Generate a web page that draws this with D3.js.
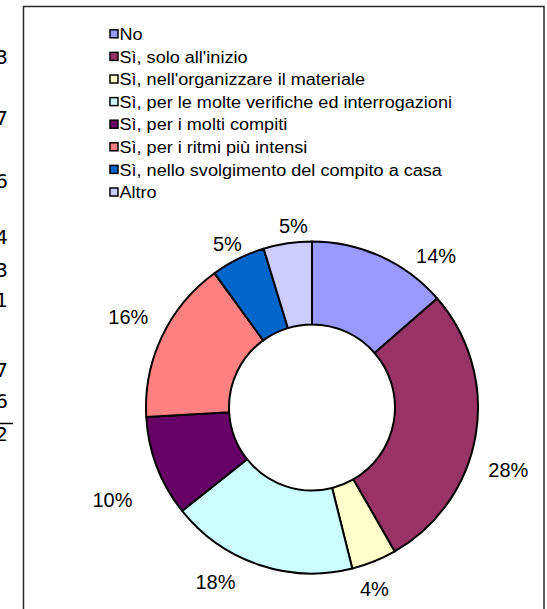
<!DOCTYPE html>
<html>
<head>
<meta charset="utf-8">
<script src="https://cdn.jsdelivr.net/npm/d3@7"></script>
<style>
  html, body { margin: 0; padding: 0; background: #fff; }
  svg { display: block; }
</style>
</head>
<body>
<svg id="chart" width="547" height="609"></svg>
<script>
// ---- data ----
const categories = [
  "No",
  "Sì, solo all'inizio",
  "Sì, nell'organizzare il materiale",
  "Sì, per le molte verifiche ed interrogazioni",
  "Sì, per i molti compiti",
  "Sì, per i ritmi più intensi",
  "Sì, nello svolgimento del compito a casa",
  "Altro"
];
const values = [13.6, 28.1, 4.4, 18.2, 9.8, 15.9, 5.3, 4.7];
const colors = ["#9999FF", "#993366", "#FFFFCC", "#CCFFFF", "#660066", "#FF8080", "#0066CC", "#CCCCFF"];
// cut-off numbers of a neighbouring sheet table visible at the left edge
const sideDigits = ["3", "7", "6", "4", "3", "1", "7", "6", "2"];

// ---- layout (label placement like Excel) ----
const labelShiftDeg = [14.8, 8.1, 3.0, 10.3, -4.0, 1.0, -0.9, 2.6];
const labelDist = [196, 206, 192, 199, 220, 205, 184, 183];
const sideDigitY = [57, 118, 181, 237, 270, 300, 370, 401, 434];

const svg = d3.select("#chart");

// side digits
svg.append("g").selectAll("text").data(sideDigits).join("text")
  .attr("x", 8)
  .attr("y", (d, i) => sideDigitY[i] + 7.3)
  .attr("text-anchor", "end")
  .attr("font-family", "Tahoma, 'DejaVu Sans', sans-serif")
  .attr("font-size", 20)
  .attr("fill", "#000")
  .text(d => d);
svg.append("line")
  .attr("x1", 0).attr("x2", 13)
  .attr("y1", 423.5).attr("y2", 423.5)
  .attr("stroke", "#000").attr("stroke-width", 1.5);

// chart frame
svg.append("rect")
  .attr("x", 23.5).attr("y", 6.5)
  .attr("width", 520.5).attr("height", 640)
  .attr("fill", "#fff")
  .attr("stroke", "#2a2a2a").attr("stroke-width", 1.5);

// legend
const legend = svg.append("g").attr("transform", "translate(109.5,0)");
const rowY = d3.scaleLinear().domain([0, 7]).range([34.3, 192.5]);
const items = legend.selectAll("g").data(categories).join("g")
  .attr("transform", (d, i) => `translate(0,${rowY(i)})`);
items.append("rect")
  .attr("x", 0.5).attr("y", -4.5)
  .attr("width", 8).attr("height", 8)
  .attr("fill", (d, i) => colors[i])
  .attr("stroke", "#000").attr("stroke-width", 1.5);
items.append("text")
  .attr("transform", "translate(10,5.6) scale(1.13,1)")
  .attr("font-family", "Arial, 'Liberation Sans', sans-serif")
  .attr("font-size", 16)
  .attr("fill", "#000")
  .text(d => d);

// doughnut
const cx = 312, cy = 407.5, R = 166, r = 83;
const pie = d3.pie().sort(null).value(d => d)(values);
const arc = d3.arc().innerRadius(r).outerRadius(R);
const g = svg.append("g").attr("transform", `translate(${cx},${cy})`);
g.selectAll("path").data(pie).join("path")
  .attr("d", arc)
  .attr("fill", (d, i) => colors[i])
  .attr("stroke", "#000")
  .attr("stroke-width", 2)
  .attr("stroke-linejoin", "round");

// labels
const fmt = v => Math.round(v) + "%";
const labelAngle = (d, i) => (d.startAngle + d.endAngle) / 2 + labelShiftDeg[i] * Math.PI / 180;
g.selectAll("text.lbl").data(pie).join("text")
  .attr("class", "lbl")
  .attr("x", (d, i) => Math.sin(labelAngle(d, i)) * labelDist[i])
  .attr("y", (d, i) => -Math.cos(labelAngle(d, i)) * labelDist[i] + 7.2)
  .attr("text-anchor", "middle")
  .attr("font-family", "Arial, 'Liberation Sans', sans-serif")
  .attr("font-size", 20)
  .attr("fill", "#000")
  .text(d => fmt(d.data));
</script>
</body>
</html>
